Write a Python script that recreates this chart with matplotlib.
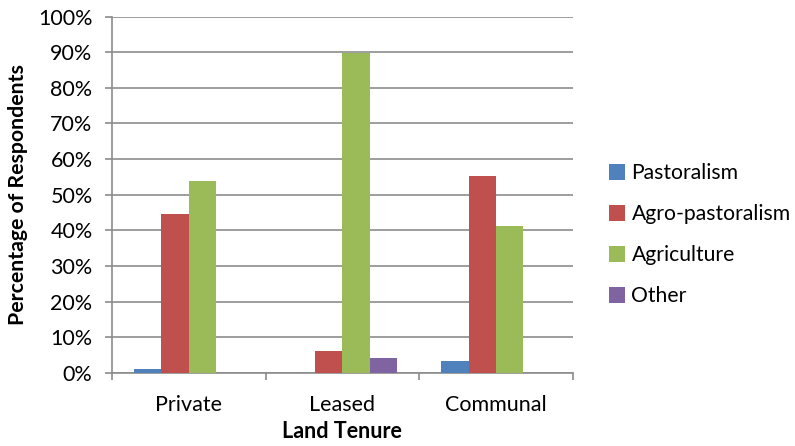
import matplotlib
matplotlib.use("Agg")
import matplotlib.pyplot as plt
import numpy as np
from matplotlib.ticker import PercentFormatter

plt.rcParams['font.family'] = ['Lato', 'DejaVu Sans']

# Land tenure categories and respondent shares (%) per livelihood
categories = ["Private", "Leased", "Communal"]
series_names = ["Pastoralism", "Agro-pastoralism", "Agriculture", "Other"]
pastoralism = [1.1, 0.0, 3.4]
agro_pastoralism = [44.7, 6.2, 55.3]
agriculture = [53.9, 89.7, 41.3]
other = [0.0, 4.2, 0.0]
y_ticks = [0, 10, 20, 30, 40, 50, 60, 70, 80, 90, 100]

colors = ["#4F81BD", "#C0504D", "#9BBB59", "#8064A2"]
grid_grey = "#8C8C8C"

fig = plt.figure(figsize=(7.95, 4.46), dpi=100)
ax = fig.add_axes([0.1409, 0.1637, 0.7204 - 0.1409, 0.963 - 0.1637])

x = np.arange(len(categories))
bar_w = 0.178
values = [pastoralism, agro_pastoralism, agriculture, other]
for i, (name, vals, c) in enumerate(zip(series_names, values, colors)):
    offs = (i - 1.5) * bar_w
    ax.bar(x + offs, vals, width=bar_w, color=c, label=name,
           linewidth=0, zorder=3)

ax.set_xlim(-0.5, len(categories) - 0.5)
ax.set_ylim(0, 100)
ax.set_yticks(y_ticks)
ax.yaxis.set_major_formatter(PercentFormatter(decimals=0))
ax.yaxis.grid(True, color=grid_grey, linewidth=1.2, zorder=0)
ax.set_axisbelow(True)

# category labels centered, tick marks at category boundaries
ax.set_xticks(x)
ax.set_xticklabels(categories)
ax.tick_params(axis="x", which="major", length=0, pad=16, labelsize=15.5)
ax.set_xticks(np.arange(-0.5, len(categories)), minor=True)
ax.tick_params(axis="x", which="minor", length=5, color=grid_grey, width=1.2)
ax.tick_params(axis="y", length=5, color=grid_grey, width=1.2, pad=9,
               labelsize=15.5)

for side in ["top", "right"]:
    ax.spines[side].set_visible(False)
for side in ["left", "bottom"]:
    ax.spines[side].set_color(grid_grey)
    ax.spines[side].set_linewidth(1.2)

ax.set_ylabel("Percentage of Respondents", fontsize=15.3, fontweight="bold",
              labelpad=7)
ax.set_xlabel("Land Tenure", fontsize=15.5, fontweight="bold", labelpad=4)

fig.legend(loc="center left", bbox_to_anchor=(0.755, 0.474), frameon=False,
           fontsize=15.2, handlelength=0.78, handleheight=0.78,
           handletextpad=0.3, labelspacing=1.0, borderaxespad=0)

fig.savefig("out.png", dpi=100)
